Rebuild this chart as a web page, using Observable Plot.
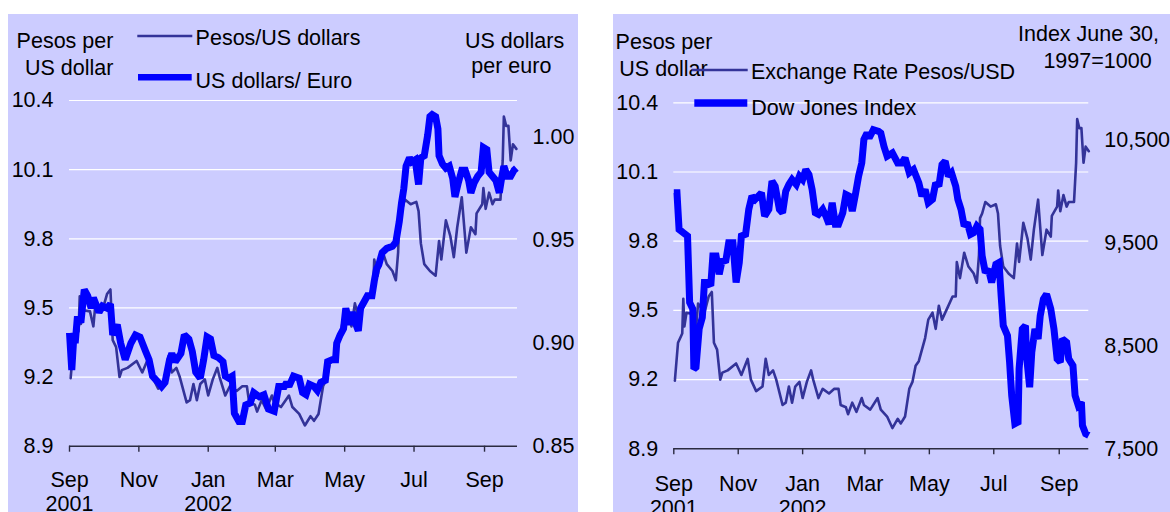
<!DOCTYPE html>
<html><head><meta charset="utf-8">
<script src="https://cdn.jsdelivr.net/npm/d3@7"></script>
<script src="https://cdn.jsdelivr.net/npm/@observablehq/plot@0.6"></script>
<style>
html,body{margin:0;padding:0;background:#fff;}
#page{position:relative;width:1170px;height:512px;overflow:hidden;}
.panel{position:absolute;background:#ccccff;overflow:hidden;}
.panel svg{position:absolute;left:0;top:0;}
#notes{position:absolute;left:0;top:0;}
</style></head>
<body><div id="page">
<div id="left" class="panel" style="left:8px;top:14px;width:570px;height:498px"></div>
<div id="right" class="panel" style="left:613px;top:14px;width:557px;height:498px"></div>
<svg id="notes"></svg>
</div>
<script>
// ---------- data ----------
const pesos = [
["2001-09-02",9.195],["2001-09-05",9.36],["2001-09-09",9.40],["2001-09-10",9.55],["2001-09-11",9.43],["2001-09-13",9.49],["2001-09-19",9.485],["2001-09-22",9.42],["2001-09-24",9.53],["2001-09-27",9.51],["2001-09-30",9.49],
["2001-10-04",9.56],["2001-10-07",9.58],["2001-10-09",9.36],["2001-10-12",9.33],["2001-10-15",9.20],["2001-10-17",9.23],["2001-10-22",9.24],["2001-10-30",9.27],
["2001-11-01",9.25],["2001-11-04",9.22],["2001-11-10",9.29],["2001-11-13",9.20],["2001-11-18",9.15],["2001-11-24",9.17],["2001-11-27",9.29],["2001-11-30",9.22],
["2001-12-04",9.24],["2001-12-07",9.20],["2001-12-13",9.09],["2001-12-16",9.10],["2001-12-19",9.17],["2001-12-22",9.10],["2001-12-25",9.17],["2001-12-29",9.19],
["2002-01-01",9.12],["2002-01-05",9.19],["2002-01-09",9.24],["2002-01-11",9.20],["2002-01-16",9.12],["2002-01-20",9.16],["2002-01-26",9.14],["2002-01-31",9.16],
["2002-02-04",9.16],["2002-02-06",9.09],["2002-02-11",9.08],["2002-02-13",9.05],["2002-02-17",9.10],["2002-02-21",9.06],["2002-02-26",9.12],["2002-02-28",9.09],
["2002-03-06",9.07],["2002-03-13",9.12],["2002-03-16",9.07],["2002-03-22",9.04],["2002-03-27",8.99],
["2002-04-01",9.03],["2002-04-04",9.01],["2002-04-08",9.04],["2002-04-12",9.16],["2002-04-15",9.19],["2002-04-18",9.26],["2002-04-21",9.28],["2002-04-24",9.33],["2002-04-27",9.38],["2002-04-30",9.46],
["2002-05-04",9.49],["2002-05-07",9.42],["2002-05-10",9.52],["2002-05-13",9.46],["2002-05-18",9.51],["2002-05-23",9.56],["2002-05-26",9.56],["2002-05-27",9.71],["2002-05-30",9.64],
["2002-06-03",9.75],["2002-06-07",9.69],["2002-06-12",9.66],["2002-06-15",9.62],["2002-06-17",9.74],["2002-06-18",9.90],["2002-06-20",9.92],["2002-06-23",9.97],["2002-06-28",9.95],
["2002-07-03",9.96],["2002-07-05",9.92],["2002-07-07",9.78],["2002-07-10",9.69],["2002-07-15",9.66],["2002-07-20",9.64],["2002-07-23",9.79],["2002-07-25",9.71],["2002-07-29",9.88],
["2002-08-02",9.81],["2002-08-05",9.72],["2002-08-08",9.85],["2002-08-12",9.98],["2002-08-16",9.74],["2002-08-20",9.85],["2002-08-24",9.82],["2002-08-25",9.91],["2002-08-30",9.95],["2002-08-31",10.02],
["2002-09-02",9.93],["2002-09-05",10.00],["2002-09-08",9.95],["2002-09-10",9.97],["2002-09-15",9.97],["2002-09-17",10.14],["2002-09-18",10.33],["2002-09-20",10.29],["2002-09-22",10.29],["2002-09-24",10.14],["2002-09-26",10.21],["2002-09-29",10.19]
];
const euro = [
["2001-09-01",0.905],["2001-09-03",0.887],["2001-09-05",0.905],["2001-09-06",0.900],["2001-09-08",0.913],["2001-09-11",0.910],["2001-09-14",0.926],["2001-09-17",0.923],["2001-09-20",0.917],["2001-09-22",0.922],["2001-09-27",0.915],["2001-09-30",0.918],
["2001-10-04",0.917],["2001-10-07",0.919],["2001-10-09",0.904],["2001-10-13",0.909],["2001-10-16",0.900],["2001-10-20",0.892],["2001-10-25",0.900],["2001-10-29",0.904],
["2001-11-02",0.903],["2001-11-07",0.896],["2001-11-10",0.892],["2001-11-13",0.884],["2001-11-18",0.881],["2001-11-21",0.879],["2001-11-24",0.881],["2001-11-28",0.892],["2001-11-30",0.895],
["2001-12-03",0.891],["2001-12-08",0.895],["2001-12-11",0.904],["2001-12-15",0.902],["2001-12-18",0.896],["2001-12-21",0.886],["2001-12-25",0.883],["2001-12-28",0.892],["2001-12-31",0.903],
["2002-01-03",0.902],["2002-01-06",0.894],["2002-01-10",0.893],["2002-01-14",0.891],["2002-01-16",0.884],["2002-01-19",0.883],["2002-01-22",0.884],["2002-01-24",0.866],["2002-01-28",0.862],["2002-01-31",0.862],
["2002-02-03",0.870],["2002-02-07",0.871],["2002-02-10",0.876],["2002-02-15",0.874],["2002-02-19",0.875],["2002-02-23",0.868],["2002-02-28",0.867],
["2002-03-04",0.879],["2002-03-09",0.879],["2002-03-11",0.881],["2002-03-13",0.879],["2002-03-17",0.884],["2002-03-22",0.883],["2002-03-25",0.876],["2002-03-28",0.875],["2002-03-31",0.880],
["2002-04-04",0.879],["2002-04-07",0.877],["2002-04-10",0.881],["2002-04-14",0.882],["2002-04-16",0.891],["2002-04-20",0.892],["2002-04-23",0.892],["2002-04-24",0.900],["2002-04-27",0.904],["2002-04-30",0.907],
["2002-05-02",0.917],["2002-05-05",0.909],["2002-05-08",0.915],["2002-05-11",0.909],["2002-05-13",0.906],["2002-05-15",0.917],["2002-05-18",0.920],["2002-05-21",0.923],["2002-05-25",0.923],["2002-05-27",0.930],["2002-05-29",0.936],["2002-05-31",0.938],
["2002-06-03",0.944],["2002-06-07",0.946],["2002-06-12",0.947],["2002-06-15",0.949],["2002-06-18",0.959],["2002-06-20",0.968],["2002-06-22",0.975],["2002-06-24",0.986],["2002-06-27",0.990],["2002-06-29",0.988],
["2002-07-02",0.989],["2002-07-05",0.977],["2002-07-07",0.990],["2002-07-10",0.991],["2002-07-13",1.001],["2002-07-15",1.010],["2002-07-17",1.011],["2002-07-20",1.010],["2002-07-22",1.004],["2002-07-23",0.991],["2002-07-26",0.987],["2002-07-29",0.985],
["2002-08-01",0.986],["2002-08-04",0.980],["2002-08-06",0.971],["2002-08-09",0.978],["2002-08-12",0.984],["2002-08-15",0.984],["2002-08-18",0.979],["2002-08-20",0.973],["2002-08-23",0.978],["2002-08-26",0.981],["2002-08-29",0.983],["2002-08-31",0.995],
["2002-09-03",0.994],["2002-09-05",0.983],["2002-09-08",0.981],["2002-09-11",0.979],["2002-09-14",0.973],["2002-09-16",0.980],["2002-09-18",0.986],["2002-09-21",0.981],["2002-09-24",0.981],["2002-09-27",0.984],["2002-09-29",0.985]
];
const dow = [
["2001-09-01",9986],["2001-09-04",9986],["2001-09-06",9631],["2001-09-10",9599],["2001-09-14",9567],["2001-09-16",8921],["2001-09-19",8857],["2001-09-20",8276],["2001-09-22",8292],["2001-09-25",8664],["2001-09-28",8776],["2001-09-30",9115],
["2001-10-03",9115],["2001-10-06",9083],["2001-10-08",9373],["2001-10-11",9373],["2001-10-14",9196],["2001-10-17",9341],["2001-10-20",9309],["2001-10-23",9502],["2001-10-27",9502],["2001-10-30",9115],
["2001-11-02",9309],["2001-11-04",9567],["2001-11-08",9583],["2001-11-11",9825],["2001-11-14",9954],["2001-11-17",9922],["2001-11-20",9954],["2001-11-23",9986],["2001-11-26",9760],["2001-11-30",9825],
["2001-12-03",10099],["2001-12-06",10050],["2001-12-10",9825],["2001-12-13",9792],["2001-12-16",10002],["2001-12-19",10067],["2001-12-22",10115],["2001-12-26",10067],["2001-12-29",10147],
["2002-01-01",10115],["2002-01-04",10212],["2002-01-07",10163],["2002-01-10",10018],["2002-01-13",9792],["2002-01-16",9776],["2002-01-20",9825],["2002-01-23",9760],["2002-01-26",9680],["2002-01-29",9889],
["2002-02-01",9680],["2002-02-04",9680],["2002-02-08",9792],["2002-02-11",9970],["2002-02-14",9954],["2002-02-17",9808],["2002-02-20",9970],["2002-02-23",10147],["2002-02-26",10276],["2002-02-28",10503],
["2002-03-03",10567],["2002-03-05",10518],["2002-03-09",10599],["2002-03-14",10583],["2002-03-16",10567],["2002-03-19",10438],["2002-03-22",10341],["2002-03-27",10373],
["2002-04-01",10276],["2002-04-05",10276],["2002-04-08",10325],["2002-04-12",10180],["2002-04-16",10212],["2002-04-21",10083],["2002-04-24",9954],["2002-04-27",10018],["2002-04-30",9889],
["2002-05-04",9922],["2002-05-07",10083],["2002-05-10",10050],["2002-05-13",10260],["2002-05-16",10292],["2002-05-19",10147],["2002-05-22",10180],["2002-05-26",10050],["2002-05-28",9922],["2002-05-31",9825],
["2002-06-03",9663],["2002-06-06",9695],["2002-06-09",9583],["2002-06-12",9599],["2002-06-15",9663],["2002-06-18",9631],["2002-06-20",9373],["2002-06-23",9212],["2002-06-26",9244],["2002-06-29",9115],
["2002-07-03",9292],["2002-07-06",9309],["2002-07-08",8986],["2002-07-10",8696],["2002-07-14",8599],["2002-07-16",8341],["2002-07-18",8018],["2002-07-21",7744],["2002-07-24",7760],["2002-07-25",8276],["2002-07-28",8664],["2002-07-31",8696],
["2002-08-01",8405],["2002-08-04",8098],["2002-08-06",8438],["2002-08-09",8664],["2002-08-12",8567],["2002-08-14",8792],["2002-08-17",8954],["2002-08-20",9002],["2002-08-24",8857],["2002-08-27",8664],["2002-08-30",8373],
["2002-09-02",8341],["2002-09-04",8567],["2002-09-08",8534],["2002-09-10",8373],["2002-09-14",8308],["2002-09-16",8018],["2002-09-19",7921],["2002-09-22",7953],["2002-09-23",7727],["2002-09-26",7647],["2002-09-29",7631]
];
const pesoTicks = [8.9, 9.2, 9.5, 9.8, 10.1, 10.4];
const euroTicks = [0.85, 0.90, 0.95, 1.00];
const dowTicks = [7500, 8500, 9500, 10500];
const monthTicks = ["2001-09-01","2001-11-01","2002-01-01","2002-03-01","2002-05-01","2002-07-01","2002-09-01"];
const monthLabels = ["Sep\n2001","Nov","Jan\n2002","Mar","May","Jul","Sep"];

// ---------- styles ----------
const FONT = "'Liberation Sans', Arial, Helvetica, sans-serif";
const FS = 21.5;
const THIN = "#333399", THICK = "#0000ff", AXIS = "#2a2a40";

const parse = d3.utcParse("%Y-%m-%d");
const rows = arr => arr.map(([d, v]) => ({date: parse(d), value: v}));
const tickDates = monthTicks.map(parse);
const xfmt = d => monthLabels[tickDates.findIndex(t => +t === +d)];

function layer(c) {
  return Plot.plot({
    width: c.width, height: c.height,
    marginTop: c.mt, marginRight: c.mr, marginBottom: c.mb, marginLeft: c.ml,
    style: {background: "transparent", fontFamily: FONT, fontSize: FS + "px", color: "#000", overflow: "visible"},
    x: {type: "utc", domain: c.xDomain, axis: null},
    y: {domain: c.yDomain, axis: null},
    marks: c.marks
  });
}

function panel(id, g) {
  const el = document.getElementById(id);
  const base = {width: g.width, height: g.height, mt: g.mt, mr: g.mr, mb: g.mb, ml: g.ml, xDomain: g.xDomain};
  el.appendChild(layer({...base, yDomain: [8.9, 10.4], marks: [
    Plot.gridY(pesoTicks.slice(1), {stroke: "#ffffff", strokeOpacity: 1, strokeWidth: 1.2}),
    Plot.ruleY([8.9], {stroke: AXIS, strokeWidth: 1.4}),
    Plot.axisY(pesoTicks, {anchor: "left", tickSize: 0, tickPadding: g.padL, tickFormat: d3.format(".1f"), label: null}),
    Plot.axisX(tickDates, {anchor: "bottom", tickSize: 6, tickPadding: g.padX, tickFormat: xfmt, label: null, stroke: AXIS, strokeWidth: 1.4, lineHeight: 1.13}),
    Plot.line(rows(pesos), {x: "date", y: "value", stroke: THIN, strokeWidth: 2.6})
  ]}));
  el.appendChild(layer({...base, yDomain: g.y2Domain, marks: [
    Plot.axisY(g.y2Ticks, {anchor: "right", tickSize: 0, tickPadding: g.padR, tickFormat: g.y2Format, label: null}),
    Plot.line(rows(g.series2), {x: "date", y: "value", stroke: THICK, strokeWidth: 7,
      strokeLinejoin: "miter", strokeMiterlimit: 2, strokeLinecap: "butt"})
  ]}));
}

panel("left", {width: 570, height: 498, mt: 86, mr: 61, mb: 66.3, ml: 61,
  xDomain: [parse("2001-09-01"), parse("2002-09-30")], padL: 16, padR: 15, padX: 17.5,
  y2Domain: [0.85, 1.0178], y2Ticks: euroTicks, y2Format: d3.format(".2f"), series2: euro});
panel("right", {width: 557, height: 498, mt: 88.3, mr: 81.7, mb: 63.7, ml: 60.3,
  xDomain: [parse("2001-09-01"), parse("2002-09-29")], padL: 15.6, padR: 15.5, padX: 18.5,
  y2Domain: [7500, 10860], y2Ticks: dowTicks, y2Format: d3.format(","), series2: dow});

// ---------- titles and legends ----------
const notes = d3.select("#notes").attr("width", 1170).attr("height", 512)
  .style("font-family", FONT).style("font-size", FS + "px");
const titles = [
  {t: "Pesos per", x: 16.6, y: 48.3}, {t: "US dollar", x: 25, y: 75},
  {t: "US dollars", x: 465, y: 48}, {t: "per euro", x: 471.3, y: 73},
  {t: "Pesos per", x: 615.6, y: 49}, {t: "US dollar", x: 619.3, y: 75.7},
  {t: "Index June 30,", x: 1018, y: 40.7}, {t: "1997=1000", x: 1043.4, y: 68.3}
];
notes.selectAll("text.t").data(titles).join("text").attr("class", "t")
  .attr("x", d => d.x).attr("y", d => d.y).attr("fill", "#000").text(d => d.t);
const legend = [
  {t: "Pesos/US dollars", x1: 137.3, x2: 192.3, y: 36, w: 2.6, c: THIN, tx: 195.6, ty: 45},
  {t: "US dollars/ Euro", x1: 138, x2: 191.7, y: 77.2, w: 6.5, c: THICK, tx: 195.6, ty: 87.7},
  {t: "Exchange Rate Pesos/USD", x1: 691.7, x2: 747.7, y: 70, w: 2.6, c: THIN, tx: 751, ty: 79},
  {t: "Dow Jones Index", x1: 694.3, x2: 747.3, y: 103, w: 7.5, c: THICK, tx: 751.3, ty: 115}
];
notes.selectAll("line.l").data(legend).join("line").attr("class", "l")
  .attr("x1", d => d.x1).attr("x2", d => d.x2).attr("y1", d => d.y).attr("y2", d => d.y)
  .attr("stroke", d => d.c).attr("stroke-width", d => d.w);
notes.selectAll("text.l").data(legend).join("text").attr("class", "l")
  .attr("x", d => d.tx).attr("y", d => d.ty).attr("fill", "#000").text(d => d.t);
</script>
</body></html>
